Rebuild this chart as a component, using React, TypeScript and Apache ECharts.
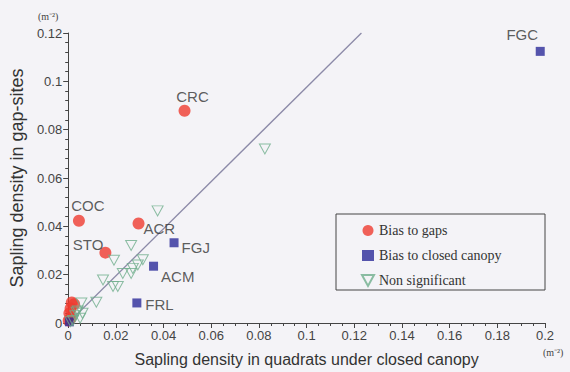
import { useEffect, useRef } from "react";
import * as echarts from "echarts";

// Species with sapling density biased toward gap-sites
const gapNames = ["CRC", "COC", "ACR", "STO", "", "", "", "", "", ""];
const gapX = [0.0488, 0.0045, 0.0295, 0.0156, 0.0015, 0.0025, 0.001, 0.0005, 0.001, 0.0002];
const gapY = [0.0878, 0.0423, 0.0412, 0.0291, 0.0085, 0.0078, 0.006, 0.004, 0.002, 0.001];

// Species biased toward closed canopy
const canopyNames = ["FGC", "FGJ", "ACM", "FRL", ""];
const canopyX = [0.198, 0.0444, 0.0358, 0.0288, 0.0005];
const canopyY = [0.1124, 0.0332, 0.0235, 0.0083, 0.0005];

// Species with no significant bias
const nsX = [0.0825, 0.0375, 0.0264, 0.0192, 0.0313, 0.0292, 0.0271, 0.0229, 0.0264, 0.0146, 0.0188, 0.0208, 0.0118, 0.0055, 0.004, 0.003, 0.005, 0.002, 0.001, 0.0035, 0.006];
const nsY = [0.072, 0.0464, 0.0321, 0.026, 0.0262, 0.024, 0.0226, 0.0205, 0.0205, 0.0178, 0.0151, 0.0151, 0.0086, 0.0083, 0.005, 0.003, 0.002, 0.001, 0.0005, 0.0045, 0.004];

// 1:1 reference line
const refLineX = [0, 0.123];
const refLineY = [0, 0.12];

const seriesNames = ["Bias to gaps", "Bias to closed canopy", "Non significant"];
const axisTitleX = "Sapling density in quadrats under closed canopy";
const axisTitleY = "Sapling density in gap-sites";
const unitText = "(m\u207B\u00B2)";

// placement of the species code next to each marker
const labelPlacement: Record<string, { position: string; offset: number[] }> = {
  CRC: { position: "top", offset: [8, 4] },
  COC: { position: "top", offset: [9, 3] },
  ACR: { position: "right", offset: [-6, 5] },
  STO: { position: "left", offset: [9, -8] },
  FGJ: { position: "right", offset: [-2, 5] },
  ACM: { position: "right", offset: [-2, 10] },
  FRL: { position: "right", offset: [-1, 2] },
  FGC: { position: "top", offset: [-18, 0] },
};

const labelFont = {
  fontFamily: "Liberation Sans, Arial, sans-serif",
  fontSize: 15,
  color: "#333",
};

function points(xs: number[], ys: number[], names?: string[]) {
  return xs.map((x, i) => {
    const name = names ? names[i] : "";
    const item: any = { value: [x, ys[i]], name };
    if (name && labelPlacement[name]) {
      item.label = {
        show: true,
        formatter: "{b}",
        position: labelPlacement[name].position,
        offset: labelPlacement[name].offset,
        ...labelFont,
      };
    }
    return item;
  });
}

const tickFmt = (v: number) => String(parseFloat(v.toFixed(3)));

const TRIANGLE = "path://M0,0L10,0L5,9Z";

export default function App() {
  const ref = useRef<HTMLDivElement>(null);

  useEffect(() => {
    document.body.style.margin = "0";
    if (!ref.current) return;
    const chart = echarts.init(ref.current, null, { renderer: "svg" });
    const axisCommon = {
      axisLine: { show: true, onZero: false, lineStyle: { color: "#444", width: 1 } },
      axisTick: { show: true, inside: false, length: 5, lineStyle: { color: "#444" } },
      minorTick: { show: true, length: 3, lineStyle: { color: "#444" } },
      splitLine: { show: false },
      axisLabel: {
        fontFamily: "Liberation Sans, Arial, sans-serif",
        fontSize: 13,
        color: "#444",
        formatter: tickFmt,
      },
    };
    chart.setOption({
      animation: false,
      backgroundColor: "#f4f3f7",
      grid: { left: 65, right: 25, top: 33, bottom: 44 },
      xAxis: {
        type: "value",
        min: 0,
        max: 0.2,
        interval: 0.02,
        ...axisCommon,
        minorTick: { ...axisCommon.minorTick, splitNumber: 4 },
        axisLabel: { ...axisCommon.axisLabel, margin: 6 },
        name: axisTitleX,
        nameLocation: "middle",
        nameGap: 28,
        nameTextStyle: {
          fontFamily: "Liberation Sans, Arial, sans-serif",
          fontSize: 16,
          color: "#333",
        },
      },
      yAxis: {
        type: "value",
        min: 0,
        max: 0.12,
        interval: 0.02,
        ...axisCommon,
        minorTick: { ...axisCommon.minorTick, splitNumber: 5 },
        axisLabel: { ...axisCommon.axisLabel, margin: 6 },
        name: axisTitleY,
        nameLocation: "middle",
        nameGap: 35,
        nameTextStyle: {
          fontFamily: "Liberation Sans, Arial, sans-serif",
          fontSize: 18,
          color: "#333",
        },
      },
      legend: {
        orient: "vertical",
        left: 356,
        top: 218,
        itemWidth: 12,
        itemHeight: 11,
        itemGap: 10,
        data: seriesNames,
        textStyle: {
          fontFamily: "Liberation Serif, serif",
          fontSize: 14,
          lineHeight: 15,
          color: "#333",
        },
      },
      graphic: [
        {
          type: "rect",
          shape: { x: 336, y: 214, width: 209, height: 76 },
          style: { fill: "none", stroke: "#444", lineWidth: 1 },
          z: 5,
        },
        {
          type: "text",
          x: 38,
          y: 11,
          style: { text: unitText, font: "10px 'Liberation Serif', serif", fill: "#444" },
        },
        {
          type: "text",
          x: 543,
          y: 347,
          style: { text: unitText, font: "10px 'Liberation Serif', serif", fill: "#444" },
        },
      ],
      series: [
        {
          type: "line",
          data: refLineX.map((x, i) => [x, refLineY[i]]),
          symbol: "none",
          lineStyle: { color: "#8c8aa8", width: 1.3 },
          silent: true,
          z: 1,
        },
        {
          name: seriesNames[0],
          type: "scatter",
          symbol: "circle",
          symbolSize: 12,
          clip: false,
          itemStyle: { color: "#ef3b30" },
          data: points(gapX, gapY, gapNames),
          z: 3,
        },
        {
          name: seriesNames[1],
          type: "scatter",
          symbol: "rect",
          symbolSize: 9,
          clip: false,
          itemStyle: { color: "#2c2a98" },
          data: points(canopyX, canopyY, canopyNames),
          z: 3,
        },
        {
          name: seriesNames[2],
          type: "scatter",
          symbol: TRIANGLE,
          symbolSize: [11, 10],
          clip: false,
          itemStyle: { color: "rgba(0,0,0,0)", borderColor: "#6fae8c", borderWidth: 1 },
          data: points(nsX, nsY),
          z: 4,
        },
      ],
    });
    return () => chart.dispose();
  }, []);

  return <div ref={ref} style={{ width: 570, height: 372 }} />;
}
